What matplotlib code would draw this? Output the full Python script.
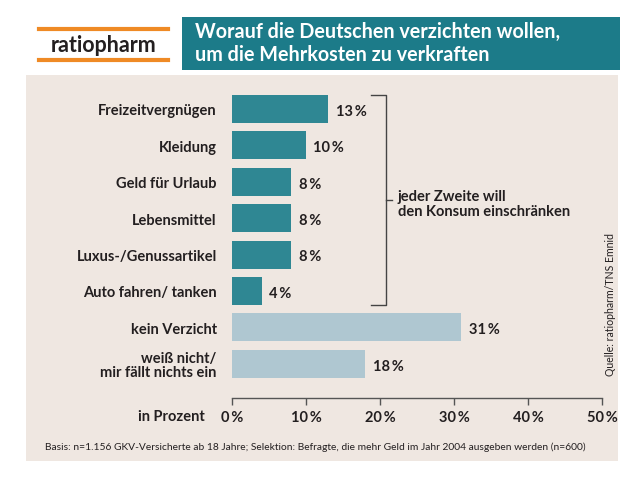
import matplotlib
matplotlib.use("Agg")
import matplotlib.pyplot as plt
from matplotlib.patches import Rectangle
from matplotlib.lines import Line2D

categories = ["Freizeitvergnügen", "Kleidung", "Geld für Urlaub", "Lebensmittel",
              "Luxus-/Genussartikel", "Auto fahren/ tanken", "kein Verzicht",
              "weiß nicht/\nmir fällt nichts ein"]
values = [13, 10, 8, 8, 8, 4, 31, 18]
groups = ["verzicht"] * 6 + ["other"] * 2
xticks = [0, 10, 20, 30, 40, 50]
xticklabels = ["0\u2009%", "10\u2009%", "20\u2009%", "30\u2009%", "40\u2009%", "50\u2009%"]

FONT = ["Lato", "DejaVu Sans"]
plt.rcParams["font.family"] = FONT

TEAL = "#2f8793"
LIGHT = "#afc7d1"
BEIGE = "#efe7e1"
TITLEBOX = "#1c7b89"
ORANGE = "#ef8a25"
TXT = "#231f20"

W, H = 630, 485
fig = plt.figure(figsize=(6.3, 4.85), dpi=100)
fig.patch.set_facecolor("white")

def fx(px):
    return px / W
def fy(py):
    return 1 - py / H

# beige panel
fig.patches.append(Rectangle((fx(26), fy(462)), fx(618) - fx(26), fy(76) - fy(462),
                             transform=fig.transFigure, facecolor=BEIGE, edgecolor="none", zorder=-5))
# title box
fig.patches.append(Rectangle((fx(182), fy(71)), fx(620) - fx(182), fy(18) - fy(71),
                             transform=fig.transFigure, facecolor=TITLEBOX, edgecolor="none", zorder=-5))
fig.text(fx(195), fy(32), "Worauf die Deutschen verzichten wollen,", color="white",
         fontsize=14.2, fontweight="bold", va="center", ha="left")
fig.text(fx(195), fy(55), "um die Mehrkosten zu verkraften", color="white",
         fontsize=14.2, fontweight="bold", va="center", ha="left")
# logo
for yy in (30, 61):
    fig.lines.append(Line2D([fx(39), fx(168)], [fy(yy), fy(yy)], transform=fig.transFigure,
                            color=ORANGE, linewidth=3.0))
fig.text(fx(104), fy(46), "ratiopharm", color=TXT, fontsize=15.5, fontweight="bold",
         ha="center", va="center")

# axes
x0, x1 = 232, 602
ax = fig.add_axes([fx(x0), fy(399), fx(x1) - fx(x0), fy(91.8) - fy(399)])
ax.set_zorder(2)
ax.set_facecolor("none")
ypos = list(range(len(categories)))
colors = [TEAL if g == "verzicht" else LIGHT for g in groups]
ax.barh(ypos, values, height=0.77, color=colors, edgecolor="none")
ax.set_xlim(0, 50)
ax.set_ylim(7.94, -0.5)
for s in ("top", "right", "left"):
    ax.spines[s].set_visible(False)
ax.spines["bottom"].set_color("#555555")
ax.spines["bottom"].set_linewidth(1.0)
ax.set_xticks(xticks)
ax.set_xticklabels(xticklabels, fontsize=10.5, fontweight="bold", color=TXT)
ax.tick_params(axis="x", direction="out", length=5, width=1.0, color="#555555", pad=4)
ax.set_yticks(ypos)
ax.set_yticklabels(categories, fontsize=10.5, fontweight="bold", color=TXT, linespacing=1.0)
ax.tick_params(axis="y", length=0, pad=11)

for y, v in zip(ypos, values):
    ax.text(v + 1.0, y + 0.05, f"{v}\u2009%", fontsize=10.5, fontweight="bold", color=TXT,
            va="center", ha="left")

# bracket
bc = "#444444"
bx = 20.8
ax.plot([18.8, bx, bx, 18.8], [-0.385, -0.385, 5.38, 5.38], color=bc, lw=1.0, clip_on=False)
ax.plot([bx, 21.6], [2.5, 2.5], color=bc, lw=1.0, clip_on=False)
ax.text(22.4, 2.6, "jeder Zweite will\nden Konsum einschränken", fontsize=10.5,
        fontweight="bold", color=TXT, va="center", ha="left", linespacing=1.05)

# axis label
fig.text(fx(205), fy(417), "in Prozent", fontsize=10.5, fontweight="bold", color=TXT,
         ha="right", va="center")

# source
fig.text(fx(610), fy(305), "Quelle: ratiopharm/TNS Emnid", fontsize=7.6, color=TXT,
         rotation=90, ha="center", va="center")

# footnote
fig.text(fx(45), fy(447), "Basis: n=1.156 GKV-Versicherte ab 18 Jahre; Selektion: Befragte, die mehr Geld im Jahr 2004 ausgeben werden (n=600)",
         fontsize=7.35, color=TXT, ha="left", va="center")

fig.savefig("out.png", dpi=100, facecolor="white")
